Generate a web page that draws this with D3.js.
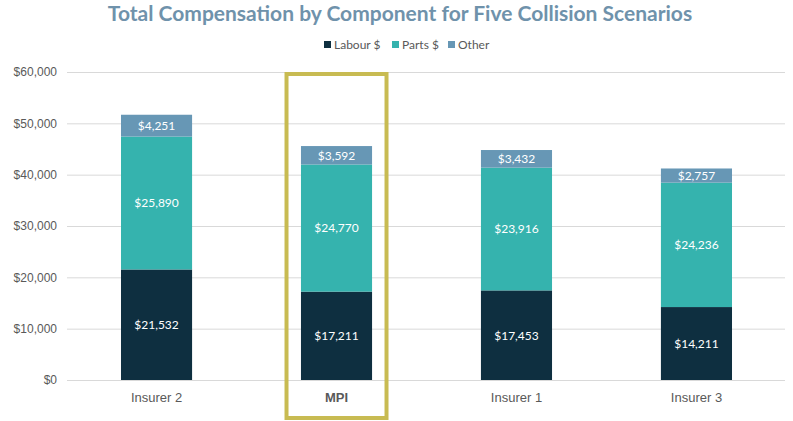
<!DOCTYPE html>
<html>
<head>
<meta charset="utf-8">
<script src="https://cdn.jsdelivr.net/npm/d3@7"></script>
<style>
  body { margin: 0; background: #fff; font-family: Lato, 'Open Sans', sans-serif; }
  .grid line { stroke: #d9d9d9; }
  .grid .domain { display: none; }
  .y-axis text { fill: #595959; font-size: 12px; }
  .x-axis text { fill: #595959; font-size: 13px; }
</style>
</head>
<body>
<div id="chart"></div>
<script>
const categories = ['Insurer 2', 'MPI', 'Insurer 1', 'Insurer 3']
const labour = [21532, 17211, 17453, 14211]
const parts = [25890, 24770, 23916, 24236]
const other = [4251, 3592, 3432, 2757]
const seriesNames = ['Labour $', 'Parts $', 'Other']
const yTicks = [0, 10000, 20000, 30000, 40000, 50000, 60000]
const highlight = 'MPI'

const W = 793, H = 421
const colors = ['#0e2f40', '#35b3ae', '#6797b5']

const svg = d3.select('#chart').append('svg')
  .attr('width', W).attr('height', H)

const rows = categories.map((c, i) => ({ cat: c, 'Labour $': labour[i], 'Parts $': parts[i], 'Other': other[i] }))
const stack = d3.stack().keys(seriesNames)(rows)

const x = d3.scaleBand().domain(categories).range([67, 786]).paddingInner(0.605).paddingOuter(0.3)
const y = d3.scaleLinear().domain([0, 60000]).range([380, 72])

// gridlines
svg.append('g')
  .attr('class', 'grid')
  .attr('transform', 'translate(67,0)')
  .call(d3.axisLeft(y).tickValues(yTicks).tickSize(-(785 - 67)).tickFormat(''))
  .call(g => g.selectAll('.tick line').attr('x1', 0))

// y labels
svg.append('g')
  .attr('class', 'y-axis')
  .attr('transform', 'translate(57,0)')
  .call(d3.axisLeft(y).tickValues(yTicks).tickSize(0).tickPadding(0).tickFormat(d => '$' + d3.format(',')(d)))
  .call(g => g.select('.domain').remove())

// bars
const layer = svg.selectAll('.layer')
  .data(stack)
  .enter()
  .append('g')
  .attr('class', 'layer')
  .attr('fill', (d, i) => colors[i])

layer.selectAll('rect')
  .data(d => d)
  .enter()
  .append('rect')
  .attr('x', d => x(d.data.cat))
  .attr('width', x.bandwidth())
  .attr('y', d => y(d[1]))
  .attr('height', d => y(d[0]) - y(d[1]))

layer.selectAll('text')
  .data(d => d)
  .enter()
  .append('text')
  .attr('x', d => x(d.data.cat) + x.bandwidth() / 2)
  .attr('y', d => (y(d[0]) + y(d[1])) / 2)
  .attr('dy', '0.36em')
  .attr('text-anchor', 'middle')
  .attr('fill', '#fff')
  .style('font-size', '12px')
  .text(d => '$' + d3.format(',')(d[1] - d[0]))

// x labels
svg.append('g')
  .attr('class', 'x-axis')
  .attr('transform', 'translate(0,386)')
  .call(d3.axisBottom(x).tickSize(0).tickPadding(7))
  .call(g => g.select('.domain').remove())
  .call(g => g.selectAll('text').filter(d => d === highlight).style('font-weight', 'bold'))

// highlight box
const hx = x(highlight) + x.bandwidth() / 2
svg.append('rect')
  .attr('x', hx - 50)
  .attr('y', 74)
  .attr('width', 100)
  .attr('height', 344)
  .attr('fill', 'none')
  .attr('stroke', '#c8bb52')
  .attr('stroke-width', 4)

// title
svg.append('text')
  .attr('x', 400)
  .attr('y', 21)
  .attr('text-anchor', 'middle')
  .attr('fill', '#6f92ab')
  .style('font-size', '21px')
  .style('font-weight', 'bold')
  .text('Total Compensation by Component for Five Collision Scenarios')

// legend
const legendX = [324, 392, 448]
const legend = svg.selectAll('.legend')
  .data(seriesNames)
  .enter()
  .append('g')
  .attr('class', 'legend')
  .attr('transform', (d, i) => `translate(${legendX[i]},45)`)
legend.append('rect')
  .attr('x', 0).attr('y', -4).attr('width', 7).attr('height', 7)
  .attr('fill', (d, i) => colors[i])
legend.append('text')
  .attr('x', 10).attr('y', 0).attr('dy', '0.35em')
  .attr('fill', '#595959')
  .style('font-size', '12px')
  .text(d => d)
</script>
</body>
</html>
